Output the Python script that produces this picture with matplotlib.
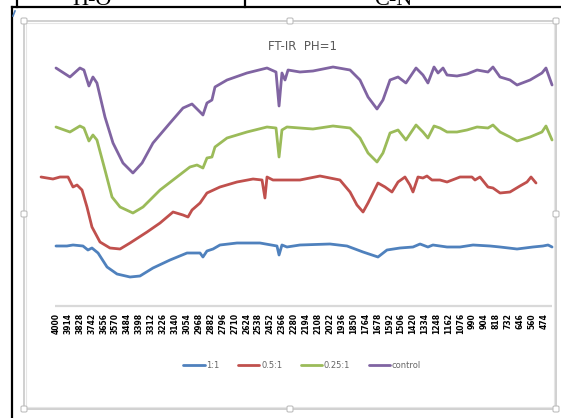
import matplotlib.pyplot as plt
from matplotlib.patches import Rectangle, FancyBboxPatch
from matplotlib.lines import Line2D

# FT-IR spectra at pH 1 (transmittance, arbitrary units, curves stacked)
wn_1_1 = [4000, 3921, 3877, 3805, 3769, 3740, 3696, 3631, 3559, 3465,
          3393, 3299, 3176, 3053, 2959, 2938, 2909, 2865, 2815, 2692,
          2526, 2403, 2388, 2367, 2331, 2237, 2020, 1897, 1781, 1673,
          1608, 1514, 1420, 1369, 1312, 1276, 1174, 1080, 986, 863,
          791, 668, 553, 481, 444, 415]
t_1_1 = [60, 60, 61, 60, 56, 58, 53, 39, 32, 29,
         30, 38, 46, 53, 53, 49, 55, 57, 61, 63,
         63, 60, 51, 61, 59, 61, 62, 60, 54, 49,
         56, 58, 59, 62, 59, 61, 59, 59, 61, 60,
         59, 57, 59, 60, 61, 59]

wn_05_1 = [4108, 4022, 3971, 3913, 3877, 3848, 3812, 3776, 3740, 3682,
           3610, 3537, 3465, 3342, 3248, 3154, 3082, 3046, 3017, 2959,
           2909, 2815, 2692, 2576, 2511, 2490, 2475, 2432, 2331, 2237,
           2092, 1948, 1875, 1825, 1781, 1745, 1673, 1622, 1572, 1528,
           1478, 1442, 1420, 1384, 1348, 1319, 1283, 1225, 1174, 1080,
           994, 972, 936, 878, 842, 791, 719, 647, 596, 567,
           531]
t_05_1 = [129, 127, 129, 129, 119, 121, 116, 99, 79, 64,
          58, 57, 63, 74, 83, 94, 91, 89, 96, 103,
          113, 119, 124, 127, 126, 108, 129, 126, 126, 126,
          130, 126, 114, 101, 94, 103, 123, 119, 114, 124,
          129, 121, 114, 129, 128, 130, 126, 126, 124, 129,
          129, 126, 129, 119, 118, 113, 114, 120, 124, 129,
          123]

wn_025_1 = [4000, 3899, 3827, 3798, 3762, 3733, 3704, 3646, 3595, 3537,
            3444, 3371, 3248, 3126, 3032, 2981, 2938, 2909, 2873, 2851,
            2764, 2620, 2475, 2410, 2388, 2367, 2331, 2237, 2143, 1998,
            1875, 1803, 1745, 1680, 1637, 1586, 1528, 1471, 1398, 1348,
            1312, 1268, 1225, 1174, 1102, 1030, 957, 878, 842, 791,
            719, 668, 574, 488, 459, 415]
t_025_1 = [179, 174, 180, 178, 165, 171, 166, 136, 109, 99,
           93, 99, 116, 129, 139, 141, 138, 148, 149, 159,
           168, 174, 179, 178, 149, 176, 179, 178, 177, 180,
           178, 168, 153, 144, 153, 173, 176, 166, 181, 174,
           168, 180, 178, 174, 174, 176, 179, 178, 181, 174,
           169, 165, 169, 174, 180, 166]

wn_ctrl = [4000, 3899, 3827, 3798, 3762, 3733, 3704, 3646, 3588, 3516,
           3444, 3378, 3299, 3176, 3082, 3017, 2959, 2938, 2909, 2873,
           2851, 2764, 2620, 2475, 2410, 2388, 2367, 2345, 2323, 2237,
           2143, 1998, 1875, 1803, 1745, 1680, 1637, 1586, 1528, 1471,
           1398, 1348, 1312, 1268, 1239, 1203, 1174, 1102, 1030, 957,
           878, 842, 791, 719, 668, 574, 488, 459, 415]
t_ctrl = [238, 229, 238, 236, 220, 229, 223, 189, 163, 143,
          133, 143, 163, 183, 198, 202, 194, 191, 203, 206,
          219, 226, 233, 238, 234, 200, 233, 226, 236, 234,
          235, 239, 236, 226, 209, 197, 206, 226, 229, 223,
          238, 231, 223, 239, 233, 238, 231, 230, 232, 236,
          234, 239, 229, 226, 221, 226, 233, 238, 221]

series_names = ['1:1', '0.5:1', '0.25:1', 'control']
series_colors = ['#4F81BD', '#C0504D', '#9BBB59', '#8064A2']
tick_wn = list(range(4000, 400, -86))
tick_labels = [str(v) for v in tick_wn]

W, H = 561, 418


def fx(px):
    return px / W


def fy(py):
    return 1 - py / H


fig = plt.figure(figsize=(W / 100, H / 100), dpi=100)

# table rules of the surrounding document
for xs, ys in [((12, 561), (7, 7)), ((12, 12), (7, 418)),
               ((17, 17), (0, 7)), ((245, 245), (0, 7))]:
    fig.add_artist(Line2D([fx(xs[0]), fx(xs[1])], [fy(ys[0]), fy(ys[1])],
                          color='black', lw=1.6, transform=fig.transFigure))
fig.text(fx(72), fy(5), 'H-O', fontsize=16, family='Liberation Serif',
         ha='left', va='baseline')
fig.text(fx(374), fy(5), 'C-N', fontsize=16, family='Liberation Serif',
         ha='left', va='baseline')
fig.add_artist(Line2D([fx(13), fx(15)], [fy(16), fy(11)], color='#4F81BD',
                      lw=1.2, transform=fig.transFigure))

# chart object frame with sizing handles
fig.add_artist(Rectangle((fx(24), fy(409)), fx(556) - fx(24), fy(21) - fy(409),
                         fill=False, ec='#D0D0D0', lw=1.4,
                         transform=fig.transFigure))
fig.add_artist(Rectangle((fx(26), fy(407)), fx(554) - fx(26), fy(23) - fy(407),
                         fill=False, ec='#E6E6E6', lw=0.8,
                         transform=fig.transFigure))
for hx, hy in [(24, 21), (290, 21), (556, 21), (24, 214), (556, 214),
               (24, 409), (290, 409), (556, 409)]:
    fig.add_artist(FancyBboxPatch((fx(hx - 3), fy(hy + 3)), fx(6), 6 / H,
                                  boxstyle='round,pad=0,rounding_size=0.003',
                                  fc='white', ec='#BFBFBF', lw=0.8,
                                  transform=fig.transFigure, zorder=5))

ax = fig.add_axes([fx(38), fy(306), fx(556) - fx(38), fy(55) - fy(306)])
ax.patch.set_alpha(0)
for s in ax.spines.values():
    s.set_visible(False)
ax.set_xlim(4130, 386.5)
ax.set_ylim(0, 251)
ax.set_yticks([])
ax.hlines(0, 4007, 415, color='#D9D9D9', lw=1.6, clip_on=False)

data = [(wn_1_1, t_1_1), (wn_05_1, t_05_1), (wn_025_1, t_025_1), (wn_ctrl, t_ctrl)]
handles = []
for (wn, t), name, c in zip(data, series_names, series_colors):
    ln, = ax.plot(wn, t, color=c, lw=2.0, solid_joinstyle='round',
                  solid_capstyle='round', label=name)
    handles.append(ln)

ax.set_xticks(tick_wn)
ax.set_xticklabels(tick_labels, rotation=90, fontsize=5.5, fontweight='bold',
                   va='top')
ax.tick_params(axis='x', length=0, pad=5)

fig.text(fx(302), fy(46), 'FT-IR  PH=1', fontsize=8.5, color='#595959',
         ha='center', va='center')

fig.legend(handles, series_names, loc='center',
           bbox_to_anchor=(fx(302), fy(365)), ncol=4, frameon=False,
           fontsize=6, handlelength=2.6, handletextpad=0.2,
           columnspacing=2.2, labelcolor='#666666')

fig.savefig('out.png', dpi=100)
